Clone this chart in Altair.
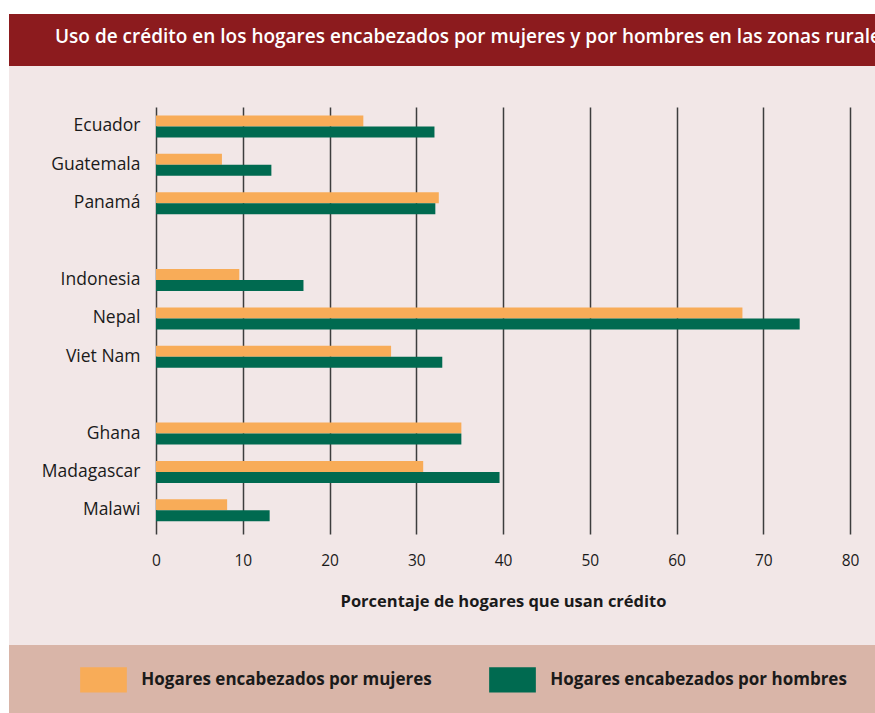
import altair as alt
import pandas as pd

# ---- data ----
countries = ["Ecuador", "Guatemala", "Panamá", "Indonesia", "Nepal", "Viet Nam",
             "Ghana", "Madagascar", "Malawi"]
mujeres = [23.9, 7.6, 32.6, 9.6, 67.6, 27.1, 35.2, 30.8, 8.2]
hombres = [32.1, 13.3, 32.2, 17.0, 74.2, 33.0, 35.2, 39.6, 13.1]
row_order = ["Ecuador", "Guatemala", "Panamá", " ", "Indonesia", "Nepal", "Viet Nam",
             "  ", "Ghana", "Madagascar", "Malawi"]
series = ["Hogares encabezados por mujeres", "Hogares encabezados por hombres"]
x_ticks = [0, 10, 20, 30, 40, 50, 60, 70, 80]
title_text = "Uso de crédito en los hogares encabezados por mujeres y por hombres en las zonas rurales"
x_title = "Porcentaje de hogares que usan crédito"

ORANGE = "#F8AC58"
GREEN = "#006A50"
RED = "#8C1B1E"
PINK = "#F2E7E7"
TAN = "#D9B5A8"
FONT = "Open Sans"

rows = []
for c, m, h in zip(countries, mujeres, hombres):
    rows.append({"pais": c, "serie": series[0], "valor": m})
    rows.append({"pais": c, "serie": series[1], "valor": h})
df = pd.DataFrame(rows)

one = pd.DataFrame({"t": [title_text]})


def band(color, x, x2, y, y2):
    return alt.Chart(one).mark_rect(color=color).encode(
        x=alt.value(x), x2=alt.value(x2), y=alt.value(y), y2=alt.value(y2)
    )


white_top = band("white", -156, 719, -107, -93)
white_left = band("white", -156, -147, -107, 606)
red_band = band(RED, -147, 719, -93, -41)
tan_band = band(TAN, -147, 719, 538, 606)

title = alt.Chart(one).mark_text(
    align="left", baseline="alphabetic", font=FONT, fontSize=19,
    fontWeight=600, color="white"
).encode(x=alt.value(-101), y=alt.value(-63.7), text="t:N")

bars = alt.Chart(df).mark_bar().encode(
    x=alt.X("valor:Q",
            scale=alt.Scale(domain=[0, 80], nice=False),
            axis=alt.Axis(values=x_ticks, title=x_title, grid=True,
                          gridColor="#3d3d3d", gridWidth=1.5,
                          domain=False, ticks=False, labelFlush=False,
                          labelFont=FONT, labelFontSize=15.5, labelColor="#1a1a1a",
                          labelFontWeight=500, labelPadding=19,
                          titleFont=FONT, titleFontSize=16.5, titleFontWeight="bold",
                          titleColor="#1a1a1a", titlePadding=25)),
    y=alt.Y("pais:N", sort=None,
            scale=alt.Scale(domain=row_order, paddingInner=0.427,
                            paddingOuter=0.276, align=0.4),
            axis=alt.Axis(title=None, grid=False, ticks=False, domain=False,
                          labelFont=FONT, labelFontSize=17.5, labelColor="#1a1a1a",
                          labelFontWeight=500, labelPadding=16)),
    yOffset=alt.YOffset("serie:N", sort=series,
                        scale=alt.Scale(domain=series, paddingInner=0, paddingOuter=0)),
    color=alt.Color("serie:N",
                    scale=alt.Scale(domain=series, range=[ORANGE, GREEN]),
                    legend=alt.Legend(
                        title=None, orient="none", legendX=-76, legendY=549,
                        direction="horizontal", columns=2, columnPadding=57,
                        symbolType="M-1,-0.542L1,-0.542L1,0.542L-1,0.542Z",
                        symbolSize=2181, symbolStrokeWidth=0, symbolOpacity=1,
                        labelOffset=14.3, labelFont=FONT, labelFontSize=17,
                        labelFontWeight="bold", labelColor="#1a1a1a",
                        labelLimit=400, padding=0)),
)

chart = alt.layer(white_top, white_left, red_band, tan_band, title, bars).properties(
    width=694, height=427,
    autosize=alt.AutoSizeParams(type="none"),
    padding={"left": 156, "top": 107, "right": 25, "bottom": 179},
    background=PINK,
).configure_view(strokeWidth=0)

chart.save("out.html", embed_options={"renderer": "svg", "actions": False})
